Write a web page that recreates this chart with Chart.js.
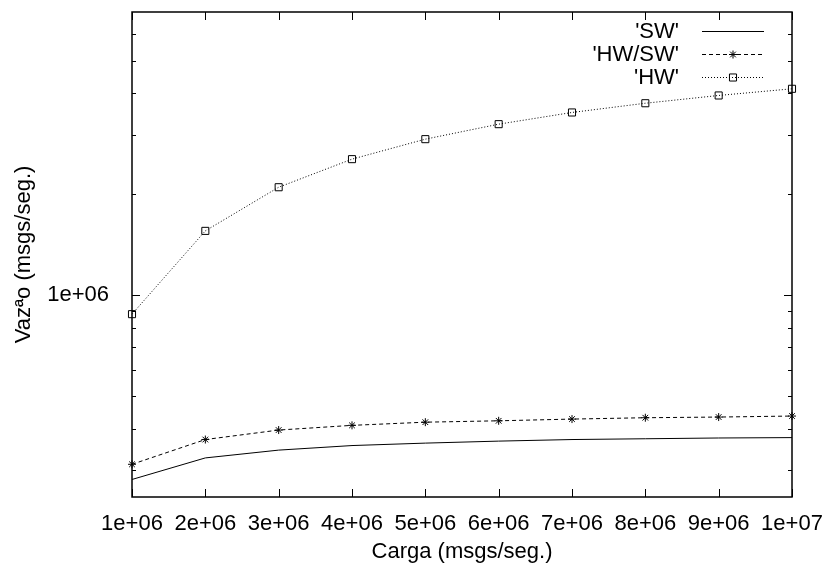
<!DOCTYPE html>
<html>
<head>
<meta charset="utf-8">
<script src="https://cdn.jsdelivr.net/npm/chart.js@4.4.1/dist/chart.umd.min.js"></script>
<style>
html, body { margin: 0; padding: 0; background: #fff; }
</style>
</head>
<body>
<canvas id="chart" width="825" height="567"></canvas>
<script>
// Carga (x) e vazão (y)
const carga = [1e6, 2e6, 3e6, 4e6, 5e6, 6e6, 7e6, 8e6, 9e6, 1e7];
const xTickLabels = ['1e+06', '2e+06', '3e+06', '4e+06', '5e+06', '6e+06', '7e+06', '8e+06', '9e+06', '1e+07'];

const vazaoSW = [282000, 327000, 345000, 356000, 362000, 367000, 371000, 373000, 375000, 376000];
const vazaoHWSW = [313000, 371000, 396000, 409000, 418000, 422000, 427000, 431000, 433000, 436000];
const vazaoHW = [878000, 1556000, 2100000, 2547000, 2922000, 3239000, 3510000, 3740000, 3945000, 4130000];

// log axis: minor ticks + the one labelled major tick
const yTicks = [3e5, 4e5, 5e5, 6e5, 7e5, 8e5, 9e5, 1e6, 2e6, 3e6, 4e6, 5e6, 6e6];
const yMajor = [1e6];
const yMajorLabels = ['1e+06'];

const FONT = '"Liberation Sans", Arial, sans-serif';
Chart.defaults.font.family = FONT;
Chart.defaults.font.size = 22;
Chart.defaults.color = '#000';

const toPoints = ys => ys.map((v, i) => ({ x: carga[i], y: v }));

// gnuplot-like border with inward ticks on all four sides
const framePlugin = {
    id: 'frame',
    beforeDatasetsDraw(chart) {
        const { ctx, chartArea: a, scales: { x, y } } = chart;
        ctx.save();
        ctx.strokeStyle = '#000';
        ctx.lineWidth = 1.5;
        ctx.strokeRect(a.left, a.top, a.right - a.left, a.bottom - a.top);
        ctx.lineWidth = 1;
        ctx.beginPath();
        x.ticks.forEach(t => {
            const px = Math.round(x.getPixelForValue(t.value)) + 0.5;
            ctx.moveTo(px, a.bottom); ctx.lineTo(px, a.bottom - 8);
            ctx.moveTo(px, a.top); ctx.lineTo(px, a.top + 8);
        });
        y.ticks.forEach(t => {
            const py = Math.round(y.getPixelForValue(t.value)) + 0.5;
            const len = yMajor.includes(t.value) ? 8 : 4;
            ctx.moveTo(a.left, py); ctx.lineTo(a.left + len, py);
            ctx.moveTo(a.right, py); ctx.lineTo(a.right - len, py);
        });
        ctx.stroke();
        ctx.restore();
    }
};

// legend drawn the gnuplot way: right-aligned key, sample to the right
const keyPlugin = {
    id: 'key',
    afterDraw(chart) {
        const { ctx, chartArea: a } = chart;
        ctx.save();
        ctx.font = '22px ' + FONT;
        ctx.fillStyle = '#000';
        ctx.textAlign = 'right';
        ctx.textBaseline = 'middle';
        chart.data.datasets.forEach((ds, i) => {
            const yy = a.top + 19 + i * 23;
            ctx.fillText(ds.label, a.right - 113, yy + 1);
            ctx.strokeStyle = ds.borderColor;
            ctx.lineWidth = ds.borderWidth;
            ctx.setLineDash(ds.borderDash || []);
            ctx.beginPath();
            ctx.moveTo(a.right - 90, yy + 0.5);
            ctx.lineTo(a.right - 28, yy + 0.5);
            ctx.stroke();
            ctx.setLineDash([]);
            if (ds.pointRadius && Chart.helpers && Chart.helpers.drawPoint) {
                ctx.lineWidth = ds.pointBorderWidth;
                ctx.fillStyle = 'rgba(0,0,0,0)';
                Chart.helpers.drawPoint(ctx, {
                    pointStyle: ds.pointStyle, radius: ds.pointRadius,
                    borderWidth: ds.pointBorderWidth, rotation: 0
                }, a.right - 59, yy + 0.5);
                ctx.fillStyle = '#000';
            }
        });
        ctx.restore();
    }
};

new Chart(document.getElementById('chart'), {
    type: 'line',
    data: {
        datasets: [
            {
                label: "'SW'",
                data: toPoints(vazaoSW),
                borderColor: '#000',
                borderWidth: 1,
                pointRadius: 0,
                tension: 0,
                clip: false
            },
            {
                label: "'HW/SW'",
                data: toPoints(vazaoHWSW),
                borderColor: '#000',
                borderWidth: 1,
                borderDash: [4, 3],
                pointStyle: 'star',
                pointRadius: 4,
                pointBorderWidth: 1,
                pointBorderColor: '#000',
                pointBackgroundColor: 'rgba(0,0,0,0)',
                tension: 0,
                clip: false
            },
            {
                label: "'HW'",
                data: toPoints(vazaoHW),
                borderColor: '#000',
                borderWidth: 1,
                borderDash: [1, 2],
                pointStyle: 'rect',
                pointRadius: 5,
                pointBorderWidth: 1,
                pointBorderColor: '#000',
                pointBackgroundColor: 'rgba(0,0,0,0)',
                tension: 0,
                clip: false
            }
        ]
    },
    options: {
        responsive: false,
        animation: false,
        devicePixelRatio: 1,
        layout: { padding: { top: 12, right: 33, bottom: 0, left: 0 } },
        plugins: {
            legend: { display: false },
            tooltip: { enabled: false }
        },
        scales: {
            x: {
                type: 'linear',
                min: 1e6,
                max: 1e7,
                afterBuildTicks: scale => { scale.ticks = carga.map(v => ({ value: v })); },
                afterFit: scale => {
                    scale.height = 70;
                    scale.paddingLeft = 0;
                    scale.paddingRight = 0;
                },
                grid: { display: false },
                border: { display: false },
                ticks: {
                    autoSkip: false,
                    maxRotation: 0,
                    padding: 6,
                    callback: (v, i) => xTickLabels[i]
                },
                title: {
                    display: true,
                    text: 'Carga (msgs/seg.)',
                    padding: { top: 0, bottom: 2 }
                }
            },
            y: {
                type: 'logarithmic',
                min: 250000,
                max: 7000000,
                afterBuildTicks: scale => { scale.ticks = yTicks.map(v => ({ value: v })); },
                afterFit: scale => {
                    scale.width = 132;
                    scale.paddingTop = 0;
                    scale.paddingBottom = 0;
                },
                grid: { display: false },
                border: { display: false },
                ticks: {
                    autoSkip: false,
                    padding: 15,
                    callback: v => {
                        const k = yMajor.indexOf(v);
                        return k >= 0 ? yMajorLabels[k] : '';
                    }
                },
                title: {
                    display: true,
                    text: 'Vazªo (msgs/seg.)',
                    padding: { top: 11, bottom: 0 }
                }
            }
        }
    },
    plugins: [framePlugin, keyPlugin]
});
</script>
</body>
</html>
